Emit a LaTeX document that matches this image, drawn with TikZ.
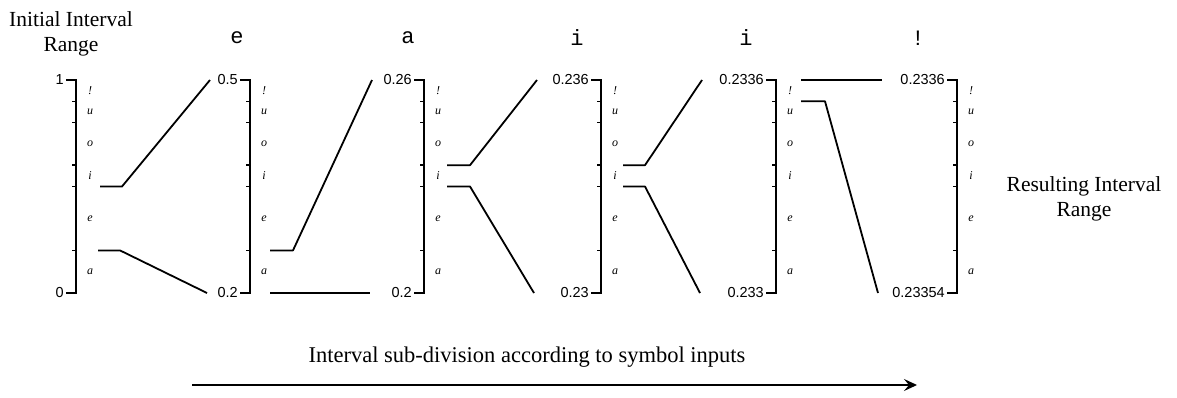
\documentclass[tikz,border=0pt]{standalone}
\usepackage{fontspec}
\setmainfont{Liberation Serif}
\newfontfamily\numfont{Liberation Sans}
\newfontfamily\symfont{Liberation Mono}
\usetikzlibrary{arrows.meta}
\begin{document}
\begin{tikzpicture}[x=1pt,y=-1pt,
  axisline/.style={line width=1.6pt},
  conn/.style={line width=1.8pt, line join=round},
  numlab/.style={font=\numfont\fontsize{14.5}{14.5}\selectfont, anchor=east, inner sep=1pt},
  symlab/.style={font=\symfont\fontsize{22}{22}\selectfont, inner sep=0pt},
  letlab/.style={font=\itshape\fontsize{12}{12}\selectfont, inner sep=0pt},
  title/.style={font=\fontsize{21.5}{25}\selectfont, align=center, inner sep=0pt}]
\useasboundingbox (0,0) rectangle (1177,397);
% axes
\foreach \X/\k in {76/1,250/2,424/3,601/4,776/5,957/6}{
  \coordinate (a\k t) at (\X,80);
  \coordinate (a\k b) at (\X,293);
  \draw[axisline] ([xshift=-10pt]a\k t) -- (a\k t) -- (a\k b) -- ([xshift=-10pt]a\k b);
  \foreach \y in {250.4,186.5,165.2,122.6,101.3}{
    \draw[axisline] (\X-4,\y) -- (\X,\y);
  }
  \node[letlab] (la\k) at (\X+14,271.7) {a};
  \node[letlab] (le\k) at (\X+14,218.4) {e};
  \node[letlab] (li\k) at (\X+14,175.9) {i};
  \node[letlab] (lo\k) at (\X+14,143.9) {o};
  \node[letlab] (lu\k) at (\X+14,112.0) {u};
  \node[letlab] (lx\k) at (\X+14,90.7) {!};
}
% value labels
\node[numlab] (n1t) at (65,80) {1};
\node[numlab] (n1b) at (65,293) {0};
\node[numlab] (n2t) at (239,80) {0.5};
\node[numlab] (n2b) at (239,293) {0.2};
\node[numlab] (n3t) at (413,80) {0.26};
\node[numlab] (n3b) at (413,293) {0.2};
\node[numlab] (n4t) at (590,80) {0.236};
\node[numlab] (n4b) at (590,293) {0.23};
\node[numlab] (n5t) at (765,80) {0.2336};
\node[numlab] (n5b) at (765,293) {0.233};
\node[numlab] (n6t) at (946,80) {0.2336};
\node[numlab] (n6b) at (946,293) {0.23354};
% symbols
\node[symlab] (s1) at (237,38) {e};
\node[symlab] (s2) at (408,38) {a};
\node[symlab] (s3) at (577,38) {i};
\node[symlab] (s4) at (746,38) {i};
\node[symlab] (s5) at (918,38) {!};
% titles
\node[title] (tin) at (71,34) {Initial Interval\\Range};
\node[title] (tres) at (1084,199) {Resulting Interval\\Range};
\node[title, font=\fontsize{22.5}{25}\selectfont] (tsub) at (527,357) {Interval sub-division according to symbol inputs};
% connection points
\coordinate (p1a) at (100,186.5); \coordinate (p1b) at (122,186.5); \coordinate (p1c) at (210,80);
\coordinate (q1a) at (98,250.4);  \coordinate (q1b) at (120,250.4); \coordinate (q1c) at (207,293);
\coordinate (p2a) at (270,250.4); \coordinate (p2b) at (293,250.4); \coordinate (p2c) at (372,80);
\coordinate (q2a) at (270,293);   \coordinate (q2c) at (370,293);
\coordinate (p3a) at (447,165.2); \coordinate (p3b) at (470,165.2); \coordinate (p3c) at (537,80);
\coordinate (q3a) at (447,186.5); \coordinate (q3b) at (470,186.5); \coordinate (q3c) at (534,293);
\coordinate (p4a) at (623,165.2); \coordinate (p4b) at (645,165.2); \coordinate (p4c) at (702,80);
\coordinate (q4a) at (623,186.5); \coordinate (q4b) at (645,186.5); \coordinate (q4c) at (700,293);
\coordinate (p5a) at (801,80);    \coordinate (p5c) at (882,80);
\coordinate (q5a) at (801,101.3); \coordinate (q5b) at (825,101.3); \coordinate (q5c) at (878,293);
\draw[conn] (p1a) -- (p1b) -- (p1c);
\draw[conn] (q1a) -- (q1b) -- (q1c);
\draw[conn] (p2a) -- (p2b) -- (p2c);
\draw[conn] (q2a) -- (q2c);
\draw[conn] (p3a) -- (p3b) -- (p3c);
\draw[conn] (q3a) -- (q3b) -- (q3c);
\draw[conn] (p4a) -- (p4b) -- (p4c);
\draw[conn] (q4a) -- (q4b) -- (q4c);
\draw[conn] (p5a) -- (p5c);
\draw[conn] (q5a) -- (q5b) -- (q5c);
% bottom arrow
\coordinate (arrs) at (192,385);
\coordinate (arre) at (917,385);
\draw[line width=1.5pt, -{Stealth[length=13pt,width=12pt,inset=5pt]}] (arrs) -- (arre);
\end{tikzpicture}
\end{document}
